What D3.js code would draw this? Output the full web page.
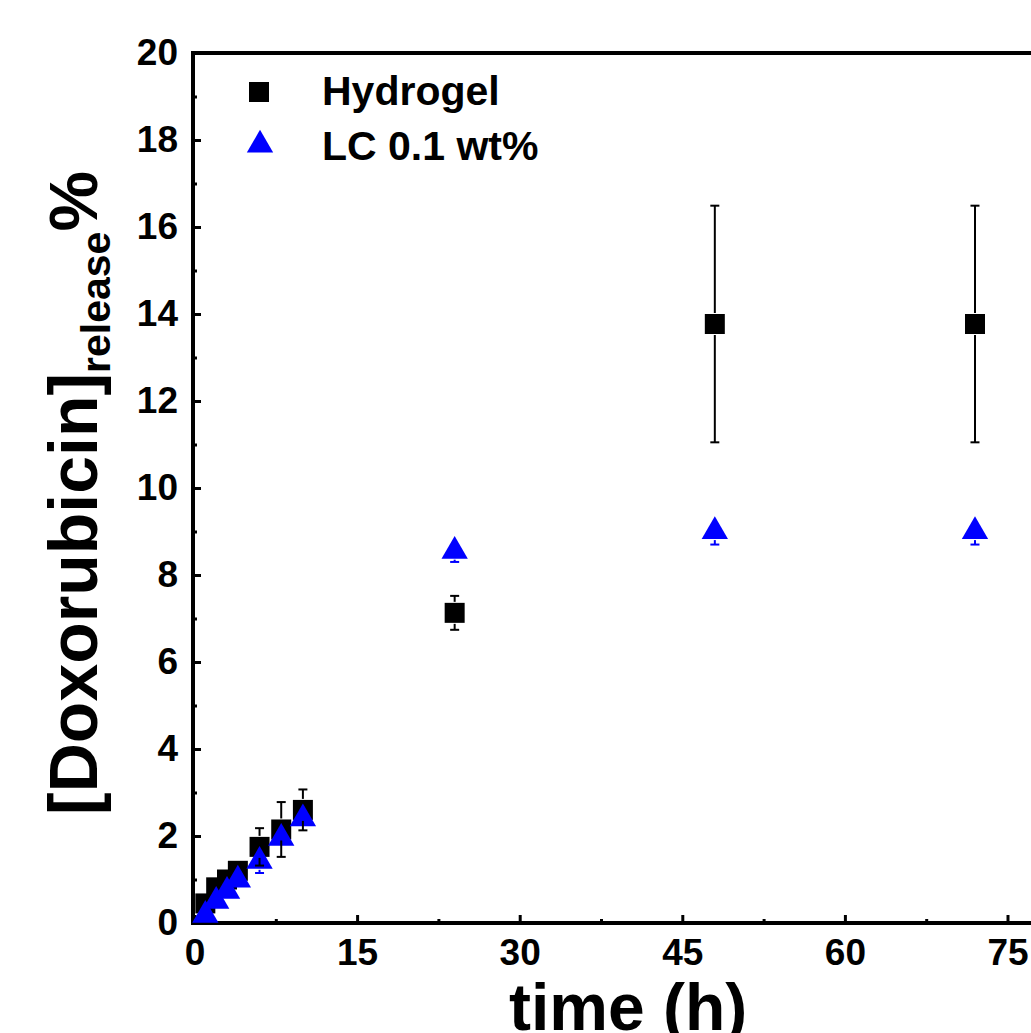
<!DOCTYPE html>
<html>
<head>
<meta charset="utf-8">
<script src="https://cdn.jsdelivr.net/npm/d3@7"></script>
<style>
  html, body { margin: 0; padding: 0; background: #fff; overflow: hidden; }
  svg { display: block; }
  text { font-family: "Liberation Sans", Arial, sans-serif; font-weight: bold; }
</style>
</head>
<body>
<svg id="chart" width="1031" height="1033"></svg>
<script>
// ---- data ----
const time = [1, 2, 3, 4, 6, 8, 10, 24, 48, 72];
const hydrogel = [0.45, 0.82, 1.0, 1.2, 1.75, 2.15, 2.6, 7.13, 13.77, 13.77];
const hydrogelErr = [0.1, 0.1, 0.1, 0.12, 0.43, 0.63, 0.47, 0.39, 2.72, 2.72];
const lc = [0.18, 0.5, 0.73, 0.99, 1.42, 1.95, 2.4, 8.55, 9.0, 9.0];
const lcErr = [0.05, 0.1, 0.1, 0.1, 0.27, 0.15, 0.15, 0.25, 0.3, 0.3];
const xMajorTicks = [0, 15, 30, 45, 60, 75];
const xMinorTicks = [7.5, 22.5, 37.5, 52.5, 67.5];
const yMajorTicks = [0, 2, 4, 6, 8, 10, 12, 14, 16, 18, 20];
const yMinorTicks = [1, 3, 5, 7, 9, 11, 13, 15, 17, 19];
const seriesNames = ["Hydrogel", "LC 0.1 wt%"];

// ---- layout ----
const svg = d3.select("#chart");
const padL = 193, padT = 53, padB = 923;
const x = d3.scaleLinear().domain([0, 80]).range([194.5, 194.5 + 80 * 10.84]);
const y = d3.scaleLinear().domain([0, 20]).range([padB, padT]);
const padR = x(80);

const black = "#000", blue = "#0000ff";

// axes
const gx = svg.append("g").attr("transform", `translate(0,${padB})`);
gx.call(d3.axisBottom(x).tickValues(xMajorTicks).tickSize(-8).tickSizeOuter(0).tickPadding(16).tickFormat(d3.format("d")));
const gxm = svg.append("g").attr("transform", `translate(0,${padB})`);
gxm.call(d3.axisBottom(x).tickValues(xMinorTicks).tickSize(-4).tickSizeOuter(0).tickFormat(""));

const gy = svg.append("g").attr("transform", `translate(${padL},0)`);
gy.call(d3.axisLeft(y).tickValues(yMajorTicks).tickSize(-8).tickSizeOuter(0).tickPadding(15).tickFormat(d3.format("d")));
const gym = svg.append("g").attr("transform", `translate(${padL},0)`);
gym.call(d3.axisLeft(y).tickValues(yMinorTicks).tickSize(-4).tickSizeOuter(0).tickFormat(""));

[gx, gxm, gy, gym].forEach(g => {
  g.select(".domain").remove();
  g.selectAll(".tick line").attr("stroke", black).attr("stroke-width", 3);
  g.selectAll(".tick text").attr("fill", black).style("font-size", "37px")
    .style("font-family", "'Liberation Sans', Arial, sans-serif").style("font-weight", "bold");
});

// frame
svg.append("path")
  .attr("d", `M${padR},${padT} L${padL},${padT} L${padL},${padB} L${padR},${padB}`)
  .attr("fill", "none").attr("stroke", black).attr("stroke-width", 4)
  .attr("stroke-linejoin", "miter");

// ---- markers ----
const sqSize = 400, triSize = 300;
const triY = Math.sqrt(triSize / (Math.sqrt(3) * 3)); // centroid to base
const data = time.map((t, i) => ({ t, h: hydrogel[i], he: hydrogelErr[i], l: lc[i], le: lcErr[i] }));

const plot = svg.append("g");
plot.selectAll(".sq").data(data).enter().append("path")
  .attr("d", d3.symbol(d3.symbolSquare, sqSize)())
  .attr("transform", d => `translate(${x(d.t)},${y(d.h)})`)
  .attr("fill", black);

plot.selectAll(".tri").data(data).enter().append("path")
  .attr("d", d3.symbol(d3.symbolTriangle, triSize)())
  .attr("transform", d => `translate(${x(d.t)},${y(d.l)})`)
  .attr("fill", blue);

// error bars (drawn outside marker region)
function errBars(acc, err, color, gapUp, gapDown, cls) {
  const g = plot.append("g").attr("class", cls);
  data.forEach(d => {
    const cx = x(d.t), cy = y(acc(d));
    const yt = y(acc(d) + err(d)), yb = y(acc(d) - err(d));
    const cap = 4.5;
    if (cy - yt > gapUp) {
      g.append("line").attr("x1", cx).attr("x2", cx).attr("y1", cy - gapUp).attr("y2", yt)
        .attr("stroke", color).attr("stroke-width", 2);
      g.append("line").attr("x1", cx - cap).attr("x2", cx + cap).attr("y1", yt).attr("y2", yt)
        .attr("stroke", color).attr("stroke-width", 2);
    }
    if (yb - cy > gapDown) {
      g.append("line").attr("x1", cx).attr("x2", cx).attr("y1", cy + gapDown).attr("y2", yb)
        .attr("stroke", color).attr("stroke-width", 2);
      g.append("line").attr("x1", cx - cap).attr("x2", cx + cap).attr("y1", yb).attr("y2", yb)
        .attr("stroke", color).attr("stroke-width", 2);
    }
  });
}
errBars(d => d.h, d => d.he, black, 11, 11, "errH");
errBars(d => d.l, d => d.le, blue, 2 * triY, triY + 1, "errL");

// ---- legend ----
const lg = svg.append("g");
lg.append("path").attr("d", d3.symbol(d3.symbolSquare, sqSize)())
  .attr("transform", "translate(259,92)").attr("fill", black);
lg.append("path").attr("d", d3.symbol(d3.symbolTriangle, triSize)())
  .attr("transform", "translate(260,145)").attr("fill", blue);
lg.append("text").attr("x", 322).attr("y", 105).style("font-size", "41px").text(seriesNames[0]);
lg.append("text").attr("x", 322).attr("y", 160).style("font-size", "41px").text(seriesNames[1]);

// ---- axis titles ----
svg.append("text")
  .attr("x", (x(0) + padR) / 2).attr("y", 1030)
  .attr("text-anchor", "middle").style("font-size", "66px").text("time (h)");

const ytl = svg.append("text")
  .attr("transform", `translate(97,${(padT + padB) / 2 + 5}) rotate(-90)`)
  .attr("text-anchor", "middle").style("font-size", "68px");
ytl.append("tspan").text("[Doxorubicin]");
ytl.append("tspan").attr("dy", 13).style("font-size", "41px").text("release");
ytl.append("tspan").attr("dy", -13).text("%");
</script>
</body>
</html>
